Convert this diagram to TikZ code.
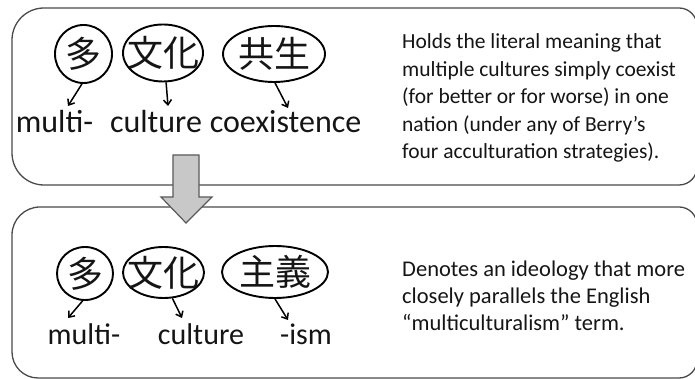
\documentclass[tikz,border=0pt]{standalone}
\usepackage{fontspec}
\setmainfont{Carlito}
\newfontfamily\cjk{Noto Sans CJK JP}
\usetikzlibrary{shapes.geometric,arrows.meta}
\definecolor{boxgray}{HTML}{4A4A4A}
\definecolor{arrfill}{HTML}{C8C8C8}
\definecolor{arrline}{HTML}{5A5A5A}
\definecolor{ink}{HTML}{151515}
\tikzset{
  boxline/.style={draw=boxgray, line width=1.3pt},
  ell/.style={draw=black, ellipse, line width=1.9pt, inner sep=0pt,
    label={[inner sep=0pt, text=ink, font=\cjk\fontsize{36}{36}\selectfont]center:#1}},
  ptr/.style={draw=black, line width=1.5pt, -{Straight Barb[length=5pt,width=8pt,line width=1.5pt]}},
  toplab/.style={anchor=base, inner sep=0pt, text=ink, font=\fontsize{32}{32}\selectfont},
  botlab/.style={anchor=base, inner sep=0pt, text=ink, font=\fontsize{30}{30}\selectfont},
  desc/.style={anchor=base west, inner sep=0pt, align=left, text=ink},
  bigarrow/.style={fill=arrfill, draw=arrline, line width=1.2pt, line join=miter}
}
\begin{document}
\begin{tikzpicture}[x=1pt,y=1pt]
\useasboundingbox (0,0) rectangle (695,379);
\clip (0,0) rectangle (695,379);
% boxes
\draw[boxline] (679,371) -- (44,371) arc[start angle=90,end angle=180,radius=32]
  -- (12,226) arc[start angle=180,end angle=270,radius=32]
  -- (679,194) arc[start angle=270,end angle=360,radius=18]
  -- (697,353) arc[start angle=0,end angle=90,radius=18] -- cycle;
\draw[boxline] (679,172) -- (40,172) arc[start angle=90,end angle=180,radius=28]
  -- (12,27) arc[start angle=180,end angle=270,radius=26]
  -- (679,1) arc[start angle=270,end angle=360,radius=18]
  -- (697,154) arc[start angle=0,end angle=90,radius=18] -- cycle;
% block arrow
\draw[bigarrow] (173,224) -- (199,224) -- (199,182) -- (212,182) -- (186,156) -- (161,182) -- (173,182) -- cycle;
% top row
\node[ell={多}, minimum width=57, minimum height=58] (ta) at (83.5,325) {};
\node[ell={文化}, minimum width=80, minimum height=57] (tb) at (163,326) {};
\node[ell={共生}, minimum width=102, minimum height=56] (tc) at (274,325) {};
\node[toplab] (tla) at (54.5,246) {multi-};
\node[toplab] (tlb) at (156,246) {culture};
\node[toplab] (tlc) at (285.5,246) {coexistence};
\coordinate (tea) at (68,273);
\coordinate (teb) at (168,273);
\coordinate (tec) at (288,271);
\draw[ptr] (ta.-93) -- (tea);
\draw[ptr] (tb.-84) -- (teb);
\draw[ptr] (tc.-88) -- (tec);
% bottom row
\node[ell={多}, minimum width=56, minimum height=53] (ba) at (85,105.5) {};
\node[ell={文化}, minimum width=81, minimum height=51] (bb) at (163.5,106.5) {};
\node[ell={主義}, minimum width=106, minimum height=52] (bc) at (275,107) {};
\node[botlab] (bla) at (84,34) {multi-};
\node[botlab] (blb) at (201,34) {culture};
\node[botlab] (blc) at (306,34) {-ism};
\coordinate (bea) at (68,61);
\coordinate (beb) at (182,61);
\coordinate (bec) at (288,59);
\draw[ptr] (ba.-95) -- (bea);
\draw[ptr] (bb.-71) -- (beb);
\draw[ptr] (bc.-90) -- (bec);
% descriptions (anchor is the baseline of the last line)
\node[desc, font=\fontsize{21.5}{27.5}\selectfont] (dt) at (402,220)
  {Holds the literal meaning that\\ multiple cultures simply coexist\\ (for better or for worse) in one\\ nation (under any of Berry’s\\ four acculturation strategies).};
\node[desc, font=\fontsize{22.5}{27}\selectfont] (db) at (402,48)
  {Denotes an ideology that more\\ closely parallels the English\\ “multiculturalism” term.};
\end{tikzpicture}
\end{document}
